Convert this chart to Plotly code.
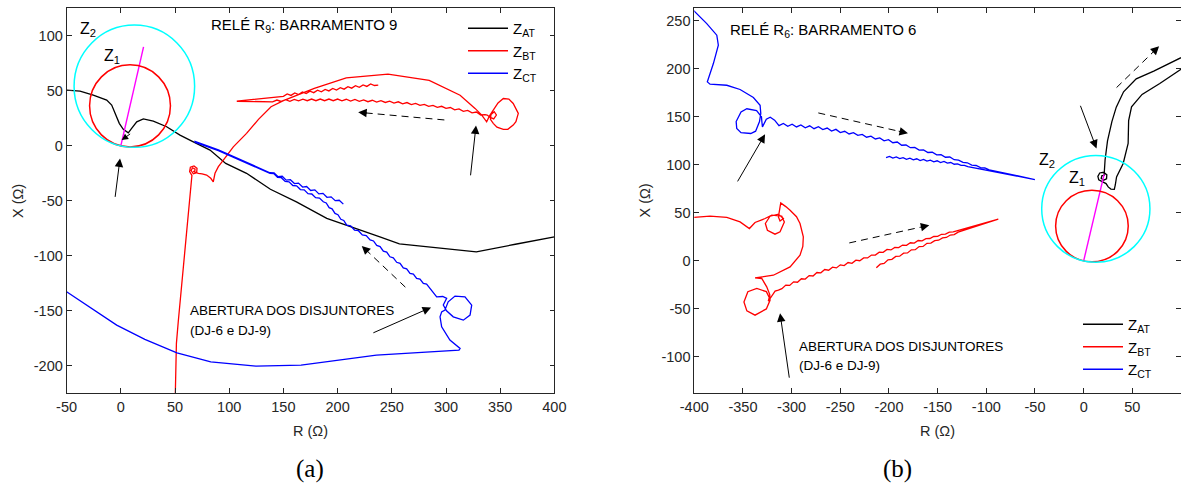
import plotly.graph_objects as go

# ---------------- Panel (a): RELÉ R9, BARRAMENTO 9 ----------------
A_AT_R = [-50, -37.6, -25.4, -13, -8.4, -5.4, -1.4, 2.3, 6.9, 10, 14.7, 20.8, 30, 42.3, 54.6, 66.9, 82.3,
          96.8, 116, 138, 162, 190, 208, 239, 257, 328, 364, 400]
A_AT_X = [50.6, 49.7, 46.1, 41.5, 37, 29.5, 20.4, 14.9, 11.8, 15.8, 21.8, 24.5, 22.5, 17.3, 9.7, 3.6, -3.9,
          -16, -25, -39.5, -51, -66, -72, -82.7, -89.2, -96.4, -89.5, -82.7]

A_BT_R_START = [50.3, 50.8, 51.3, 53, 55.2, 57, 58.7, 60.5, 62, 63.5, 64.5, 65.3,
                65.6, 63.5, 64.2, 67.5, 70.3, 70, 66.9, 64.9, 66.2, 68.5, 68.2, 66.8,
                71.5, 75, 79.2, 83, 85.3, 86.9, 90, 94.6, 103.8, 116, 127, 138.6, 150, 162.8, 178.5,
                208, 246.5, 284.5, 313, 326.8, 333, 337.5,
                340, 343.6, 348, 352.9, 358, 362, 366.7, 364.5, 362, 357, 352.9, 347, 343.6, 341,
                341.5, 344.5, 346.5, 344, 340.5, 338]
A_BT_X_START = [-225, -200, -179.6, -160, -137, -118, -101, -85, -70, -55, -42, -32,
                -27, -23.5, -19.5, -18.3, -20.5, -24.5, -25.5, -22.5, -20, -21.2, -23.3, -23.2,
                -25, -25.6, -26.6, -29.5, -32.7, -25, -19, -13, -1, 11.3, 24, 35.5, 41, 46, 52.2,
                61.8, 65.2, 59.5, 46, 34, 27.9, 21.8,
                27, 32.5, 39, 43, 42.5, 38.5, 29.5, 22, 18.8, 15, 14.9, 17, 20.4, 24,
                28.5, 31, 28, 24.5, 26, 28]
# oscillating return path (after breaker opening), right to left
A_BT_R_LOW = [336, 332, 328, 324, 320, 316, 312, 308, 304, 300, 296, 292, 288, 284, 280, 276, 272, 268,
              264, 260, 256, 252, 248, 244, 240, 236, 232, 228, 224, 220, 216, 212, 208, 204, 200, 196,
              192, 188, 184, 180, 176, 172, 168, 164, 160, 156, 152, 148, 144, 140, 107]
A_BT_X_LOW = [28.3, 28.0, 30.7, 30.0, 32.2, 31.3, 33.5, 32.7, 34.8, 34.0, 35.9, 34.9, 36.8, 35.8, 37.7,
              36.7, 38.6, 37.4, 39.3, 38.1, 40.0, 38.8, 40.6, 39.4, 41.0, 39.7, 41.4, 40.1, 41.8, 40.5,
              42.1, 40.7, 42.3, 40.9, 42.5, 41.0, 42.5, 41.0, 42.5, 41.0, 42.5, 41.0, 42.4, 40.8, 42.2,
              40.5, 41.9, 40.3, 41.6, 40.0, 40.5]
A_BT_R_UP = [150, 153.5, 157, 160.5, 164, 167.5, 171, 174.5, 178, 181.5, 185, 188.5, 192, 195.5, 199,
             202.5, 206, 209.5, 213, 216.5, 220, 223.5, 227, 230.5, 234, 237.5]
A_BT_X_UP = [45.0, 47.2, 45.8, 48.0, 46.6, 48.9, 47.5, 49.7, 48.3, 50.5, 49.1, 51.3, 49.9, 52.1, 50.7,
             52.9, 51.5, 53.7, 52.4, 54.6, 53.2, 55.4, 54.0, 56.2, 54.8, 55.2]

A_CT_R_START = [-50, -26.4, -3.8, 22.2, 51.8, 83, 124.6, 166.3, 235.8, 312, 313,
                303.6, 299, 296, 294.5, 296, 299, 302, 308.3, 317.5, 323.7, 322.2, 316, 306.7, 300.5,
                297.5, 300.6, 297, 291.4]
A_CT_X_START = [-132.7, -147.8, -163, -176, -188.2, -196.4, -200.3, -199.4, -190.3, -185.7, -184.2,
                -176.6, -170, -164.5, -155.5, -151, -149.4, -141.8, -136.6, -137.3, -144.8, -153.9,
                -158.5, -155.5, -150, -144.8, -138.7, -137, -137.3]
A_CT_R_LOW = [137.6, 141.1, 144.6, 148.1, 151.6, 155.2, 158.7, 162.2, 165.7, 169.2, 172.7, 176.2, 179.7,
              183.3, 186.8, 189.5, 192.2, 194.9, 197.6, 200.3, 203.0, 205.7, 208.4, 212.0, 215.6, 219.2,
              222.8, 226.4, 230.0, 233.1, 236.1, 239.2, 242.2, 245.3, 248.3, 251.4, 254.5, 257.6, 260.6,
              263.7, 266.8, 269.9, 272.9, 276.0, 279.1, 282.1, 285.2]
A_CT_X_LOW = [-25.0, -25.3, -28.7, -29.0, -32.4, -32.7, -36.1, -36.4, -39.8, -40.1, -43.5, -43.8, -47.2,
              -47.5, -50.9, -52.0, -56.2, -57.3, -61.5, -62.6, -66.8, -67.9, -72.1, -72.7, -76.6, -77.2,
              -81.0, -81.7, -85.5, -86.5, -90.6, -91.6, -95.8, -96.7, -100.9, -101.8, -105.9, -106.9,
              -111.0, -111.9, -116.0, -116.7, -120.5, -121.2, -125.1, -125.7, -129.6]
# dense (overlapping) stretch between the two oscillating branches
A_CT_R_MID = [110, 90, 68.5, 68.5, 90, 110]
A_CT_X_MID = [-13.2, -4.5, 3.1, 4.0, -3.6, -12.2]
A_CT_R_UP = [137.6, 141.4, 145.1, 148.9, 152.6, 156.4, 160.2, 163.9, 167.7, 171.4, 175.2, 179.0, 182.7,
             186.5, 190.2, 194.0, 197.8, 201.5, 205.3]
A_CT_X_UP = [-24.5, -24.6, -28.1, -27.7, -31.2, -30.8, -34.3, -33.9, -37.5, -37.0, -40.6, -40.1, -43.7,
             -43.2, -46.8, -46.4, -49.9, -49.5, -53.0]

# ---------------- Panel (b): RELÉ R6, BARRAMENTO 6 ----------------
B_AT_R = [100, 78.2, 60, 49.2, 46.2, 45.7, 40.6, 33.8, 32.5, 31.5, 28, 25.2, 23,
          19.4, 15.5, 14.6, 16.5, 20.5, 23.8, 23.5, 20.5, 18, 18.8, 21,
          21.5, 22, 24.5, 29, 33.5, 41, 54, 72, 100]
B_AT_X = [199.5, 184.6, 173.3, 160.3, 146, 122.2, 101.4, 87.4, 79, 74.5, 74.8, 77, 80.5,
          82.6, 84.5, 88, 91.5, 92.2, 89.5, 85.5, 84, 86, 88.8, 89,
          95, 105, 125, 145, 160, 176, 189.5, 197.5, 211.5]

B_BT_R_START = [-401, -383.8, -366.6, -353, -343.4, -337.6, -327.3, -320.4, -310.2, -307.5, -311.9, -317.1,
                -324.9, -327, -322.2, -313.6, -308.5, -311.9, -313.6, -311.2, -306, -301.6, -295, -291.4,
                -288, -288.5, -291.4, -301.6, -318.8, -337.6, -330.7, -325.6, -322.5, -322.2, -326,
                -337.6, -346, -349, -345, -335.8, -326, -323, -324, -321, -317, -313.6]
B_BT_X_START = [45.2, 46.5, 45.2, 40.6, 33.7, 40, 44.1, 47.6, 46.5, 40.6, 30.2, 27.8, 31.9, 38.9, 46.5,
                48.6, 44.1, 41.6, 45.8, 60.4, 56.5, 52.8, 46, 38.9, 25, 15, 5.9, -6.2, -14.9, -17.7,
                -18.3, -27, -35, -41, -50, -56.5, -52, -42.7, -32, -28.7, -32, -38, -42, -37, -31.5, -30.5]
B_BT_R_UP = [-310, -306, -302, -298, -294, -290, -286, -282, -278, -274, -270, -266, -262, -258, -254,
             -250, -246, -242, -238, -234, -230, -226, -222, -218, -214, -210, -206, -202, -198, -194,
             -190, -186, -182, -178, -174, -170, -166, -162, -158, -154, -150, -146, -142, -138, -134,
             -87.7]
B_BT_X_UP = [-28.9, -25.2, -25.5, -21.8, -22.2, -18.6, -18.9, -15.3, -15.7, -12.1, -12.4, -9.0, -9.7,
             -6.5, -7.3, -4.1, -4.9, -1.7, -2.5, 0.8, 0.2, 3.1, 3.1, 6.1, 6.0, 9.0, 8.9, 11.9, 11.4,
             14.1, 13.8, 16.5, 16.2, 18.9, 18.6, 21.2, 20.9, 23.1, 23.3, 25.4, 25.6, 27.7, 27.9, 30.0,
             30.2, 43.4]
B_BT_R_LOW = [-110, -129, -133, -137, -141, -145, -149, -153, -157, -161, -165, -169, -173, -177, -181,
              -185, -189, -193, -197, -201, -205, -209, -213]
B_BT_X_LOW = [36.2, 29.9, 27.4, 26.9, 24.4, 24.0, 21.5, 21.0, 18.5, 18.3, 15.1, 14.9, 11.7, 11.5, 8.3,
              8.1, 4.9, 4.7, 1.6, 1.1, -2.7, -3.4, -7.1]

B_CT_R_START = [-401, -387.2, -376.9, -375.3, -380.4, -386.6, -383.8, -366.6, -353, -339.3, -332.4, -331.7,
                -333, -337, -342, -352, -356.4, -357, -352, -346, -336, -331, -330.5, -330, -326, -322,
                -317.5]
B_CT_X_START = [260.9, 247, 234.9, 224.5, 205.4, 186.3, 183.9, 182.8, 178.4, 170, 162, 153.4,
                145, 135, 132.6, 133.5, 137.8, 145, 155, 158.3, 156.5, 150, 144, 139.5, 147.5, 149.5, 146.5]
B_CT_R_UP = [-313, -308.5, -304, -299.5, -295, -290.5, -286, -281.5, -277, -272.5, -268, -263.5, -259,
             -254.5, -250, -245.5, -241, -236.5, -232, -227.5, -223, -218.5, -214, -209.5, -205, -200.5,
             -196, -191.5, -187, -182.5, -178, -173.5, -169, -164.5, -160, -155.5, -151, -146.5, -142,
             -137.5, -133, -128.5, -124, -119.5, -115, -110.5, -106, -101.5, -97, -50.1, -90, -110]
B_CT_X_UP = [140.8, 143.0, 140.1, 142.3, 139.4, 141.5, 138.6, 140.6, 137.6, 139.6, 136.6, 138.3, 135.1,
             136.9, 133.6, 134.9, 132.1, 133.4, 130.6, 131.7, 128.7, 129.8, 126.9, 128.0, 125.0, 126.1,
             123.0, 123.7, 120.4, 120.6, 117.8, 118.0, 115.3, 115.6, 112.8, 113.1, 110.3, 110.6, 107.9,
             108.1, 105.3, 104.9, 102.5, 102.1, 99.7, 99.3, 97.0, 96.7, 94.8, 84.7, 92.3, 96.5]
B_CT_R_LOW = [-119, -122.5, -126, -129.5, -133, -136.5, -140, -143.5, -147, -150.5, -154, -157.5, -161,
              -164.5, -168, -171.5, -175, -178.5, -182, -185.5, -189, -192.5, -196, -199.5, -203]
B_CT_X_LOW = [98.1, 99.5, 99.4, 101.0, 100.6, 102.4, 101.7, 103.5, 102.4, 104.2, 103.1, 104.9, 103.8,
              105.6, 104.4, 106.3, 105.1, 106.9, 105.7, 107.5, 106.4, 108.2, 107.0, 108.8, 107.6]

# ---------------- Protection zones (same settings in both panels) ----------------
ZONE_NAMES = ["Z1", "Z2"]
ZONE_CX = [8.5, 12.5]
ZONE_CY = [36.3, 54.2]
ZONE_RADIUS = [37.3, 55.6]
ZONE_COLORS = ["#ff0000", "#00ffff"]
LINE_ANGLE_R = [0, 21]
LINE_ANGLE_X = [0, 90]

SERIES_NAMES = ["Z<sub>AT</sub>", "Z<sub>BT</sub>", "Z<sub>CT</sub>"]
SERIES_COLORS = ["#000000", "#ff0000", "#0000ff"]

# tick values / labels (matlab-style hyphen minus)
A_XTICKS = [-50, 0, 50, 100, 150, 200, 250, 300, 350, 400]
A_YTICKS = [-200, -150, -100, -50, 0, 50, 100]
B_XTICKS = [-400, -350, -300, -250, -200, -150, -100, -50, 0, 50]
B_YTICKS = [-100, -50, 0, 50, 100, 150, 200, 250]

# arrows: (head R, head X, tail R, tail X)
A_SOLID_ARROWS = [(-0.7, -11.5, -5.4, -47.8), (327.7, 18.5, 322.5, -28.2), (286.2, -146.9, 231.6, -170.6)]
A_SMALL_ARROWS = [(0.8, 5.2, 10, 11.8)]
A_DASHED_ARROWS = [(219.0, 30.5, 298.5, 23.5), (222.3, -91.0, 262.5, -128.5)]
B_SOLID_ARROWS = [(-327.3, 131.8, -356.4, 81.2), (-311.9, -54.5, -302.2, -123.1), (13.2, 117, -3.9, 163)]
B_DASHED_ARROWS = [(-180.5, 132.8, -272.6, 154), (-158.6, 37.1, -240.8, 18.7), (77.5, 223.4, 33.8, 180.4)]

FONT = "Liberation Sans, Arial, sans-serif"
INK = "#262626"

fig = go.Figure()


def add_series(xs, ys, name, color, xa, ya, legend, width=1.3, show=True):
    fig.add_trace(go.Scatter(x=xs, y=ys, mode="lines", name=name, legend=legend, showlegend=show,
                             line=dict(color=color, width=width), xaxis=xa, yaxis=ya,
                             hoverinfo="skip"))


def add_zones(xa, ya):
    for cx, cy, r, col in zip(ZONE_CX, ZONE_CY, ZONE_RADIUS, ZONE_COLORS):
        fig.add_shape(type="circle", xref=xa, yref=ya,
                      x0=cx - r, x1=cx + r, y0=cy - r, y1=cy + r,
                      line=dict(color=col, width=1.5))
    fig.add_trace(go.Scatter(x=LINE_ANGLE_R, y=LINE_ANGLE_X, mode="lines", showlegend=False,
                             line=dict(color="#ff00ff", width=1.4), xaxis=xa, yaxis=ya,
                             hoverinfo="skip"))


# panel (a)
add_series(A_AT_R, A_AT_X, SERIES_NAMES[0], SERIES_COLORS[0], "x", "y", "legend")
add_series(A_BT_R_START + A_BT_R_LOW + A_BT_R_UP, A_BT_X_START + A_BT_X_LOW + A_BT_X_UP,
           SERIES_NAMES[1], SERIES_COLORS[1], "x", "y", "legend")
add_series(A_CT_R_START + A_CT_R_LOW[::-1] + A_CT_R_MID + A_CT_R_UP,
           A_CT_X_START + A_CT_X_LOW[::-1] + A_CT_X_MID + A_CT_X_UP,
           SERIES_NAMES[2], SERIES_COLORS[2], "x", "y", "legend")
# panel (b)
add_series(B_AT_R, B_AT_X, SERIES_NAMES[0], SERIES_COLORS[0], "x2", "y2", "legend2")
add_series(B_BT_R_START + B_BT_R_UP + B_BT_R_LOW, B_BT_X_START + B_BT_X_UP + B_BT_X_LOW,
           SERIES_NAMES[1], SERIES_COLORS[1], "x2", "y2", "legend2")
add_series(B_CT_R_START + B_CT_R_UP + B_CT_R_LOW, B_CT_X_START + B_CT_X_UP + B_CT_X_LOW,
           SERIES_NAMES[2], SERIES_COLORS[2], "x2", "y2", "legend2")

add_zones("x", "y")
add_zones("x2", "y2")

annotations = []


def arrow(xr, yr, hx, hy, tx, ty, size=1.7):
    annotations.append(dict(x=hx, y=hy, ax=tx, ay=ty, xref=xr, yref=yr, axref=xr, ayref=yr,
                            text="", showarrow=True, arrowhead=2, arrowsize=size, arrowwidth=1,
                            arrowcolor="black"))


def dashed(xr, yr, hx, hy, tx, ty):
    # dashed shaft + arrow head
    fig.add_shape(type="line", xref=xr, yref=yr, x0=tx, y0=ty,
                  x1=hx + (tx - hx) * 0.08, y1=hy + (ty - hy) * 0.08,
                  line=dict(color="black", width=1, dash="7px,5px"))
    arrow(xr, yr, hx, hy, hx + (tx - hx) * 0.12, hy + (ty - hy) * 0.12)


for h in A_SOLID_ARROWS:
    arrow("x", "y", *h)
for h in A_SMALL_ARROWS:
    arrow("x", "y", *h, size=1.3)
for h in A_DASHED_ARROWS:
    dashed("x", "y", *h)
for h in B_SOLID_ARROWS:
    arrow("x2", "y2", *h)
for h in B_DASHED_ARROWS:
    dashed("x2", "y2", *h)


def text(xr, yr, x, y, s, size=13, xanchor="center", family=FONT):
    annotations.append(dict(x=x, y=y, xref=xr, yref=yr, text=s, showarrow=False, xanchor=xanchor,
                            yanchor="middle", font=dict(family=family, size=size, color="#000000")))


text("x", "y", 169, 109.7, "RELÉ R<sub>9</sub>: BARRAMENTO 9", size=15)
text("x2", "y2", -267.4, 240, "RELÉ R<sub>6</sub>: BARRAMENTO 6", size=15)
text("x", "y", -30.3, 106, "Z<sub>2</sub>", size=16)
text("x", "y", -8.1, 81.5, "Z<sub>1</sub>", size=16)
text("x2", "y2", -37.8, 104.8, "Z<sub>2</sub>", size=16)
text("x2", "y2", -6.5, 85.5, "Z<sub>1</sub>", size=16)
text("x", "y", 62, -150, "ABERTURA DOS DISJUNTORES", size=13.5, xanchor="left")
text("x", "y", 62, -167.5, "(DJ-6 e DJ-9)", size=13.5, xanchor="left")
text("x2", "y2", -294, -89.5, "ABERTURA DOS DISJUNTORES", size=13.5, xanchor="left")
text("x2", "y2", -294, -109.3, "(DJ-6 e DJ-9)", size=13.5, xanchor="left")

# axis titles and panel labels (explicit anchors: paper 'auto' anchoring would shift them)
for xc, lab in [(310.5 / 1181, "(a)"), (897 / 1181, "(b)")]:
    annotations.append(dict(x=xc, y=(489 - 469) / 489, xref="paper", yref="paper", text=lab,
                            xanchor="center", yanchor="middle", showarrow=False,
                            font=dict(family="Liberation Serif, serif", size=25, color="#000000")))
for xc in [310.5 / 1181, 937 / 1181]:
    annotations.append(dict(x=xc, y=(489 - 431) / 489, xref="paper", yref="paper", text="R (Ω)",
                            xanchor="center", yanchor="middle", showarrow=False,
                            font=dict(family=FONT, size=14.5, color=INK)))
for xc in [18 / 1181, 644.5 / 1181]:
    annotations.append(dict(x=xc, y=(489 - 201) / 489, xref="paper", yref="paper", text="X (Ω)",
                            xanchor="center", yanchor="middle", textangle=-90, showarrow=False,
                            font=dict(family=FONT, size=14.5, color=INK)))

axis_common = dict(showgrid=False, zeroline=False, ticks="inside", ticklen=5, tickwidth=0.8,
                   tickcolor=INK, showline=True, linecolor=INK, linewidth=0.8, mirror="ticks",
                   tickfont=dict(family=FONT, size=14.5, color=INK), fixedrange=True,
                   automargin=False, tickmode="array")


def labels(vals):
    return [str(v) for v in vals]


ydom = [(489 - 393.3) / 489, (489 - 8.3) / 489]
fig.update_layout(
    width=1181, height=489, margin=dict(l=0, r=0, t=0, b=0),
    paper_bgcolor="white", plot_bgcolor="white", showlegend=True,
    xaxis=dict(domain=[66.6 / 1181, 554.4 / 1181], range=[-50, 400], anchor="y",
               tickvals=A_XTICKS, ticktext=labels(A_XTICKS), **axis_common),
    yaxis=dict(domain=ydom, range=[-225, 125], anchor="x",
               tickvals=A_YTICKS, ticktext=labels(A_YTICKS), **axis_common),
    xaxis2=dict(domain=[694.3 / 1181, 1.0], range=[-400, 100], anchor="y2",
                tickvals=B_XTICKS, ticktext=labels(B_XTICKS), **axis_common),
    yaxis2=dict(domain=ydom, range=[-137.8, 262.9], anchor="x2",
                tickvals=B_YTICKS, ticktext=labels(B_YTICKS), **axis_common),
    legend=dict(x=463 / 1181, y=(489 - 12) / 489, xanchor="left", yanchor="top",
                bgcolor="rgba(0,0,0,0)", font=dict(family=FONT, size=15, color="#000000"),
                itemwidth=40, tracegroupgap=0),
    legend2=dict(x=1078 / 1181, y=(489 - 308) / 489, xanchor="left", yanchor="top",
                 bgcolor="rgba(0,0,0,0)", font=dict(family=FONT, size=15, color="#000000"),
                 itemwidth=40, tracegroupgap=0),
    annotations=annotations,
)

fig.write_html("out.html")
